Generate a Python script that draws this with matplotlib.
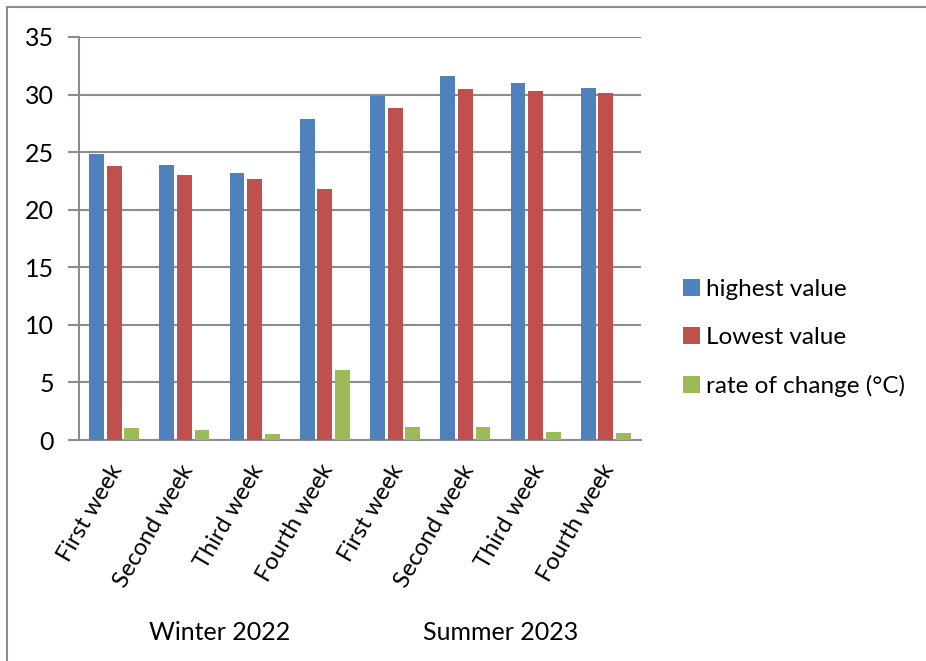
import matplotlib
matplotlib.use("Agg")
import matplotlib.pyplot as plt
from matplotlib.patches import Rectangle
import numpy as np

plt.rcParams['font.family'] = ['Lato', 'DejaVu Sans']

weeks = ["First week", "Second week", "Third week", "Fourth week",
         "First week", "Second week", "Third week", "Fourth week"]
seasons = ["Winter 2022", "Summer 2023"]
highest = [24.8, 23.9, 23.2, 27.9, 29.9, 31.6, 31.0, 30.6]
lowest = [23.8, 23.0, 22.7, 21.8, 28.8, 30.5, 30.3, 30.1]
rate = [1.0, 0.9, 0.5, 6.1, 1.1, 1.1, 0.7, 0.6]
series_names = ["highest value", "Lowest value", "rate of change (°C)"]
colors = ["#4F81BD", "#C0504D", "#9BBB59"]

W, H = 926, 661
fig = plt.figure(figsize=(W / 100, H / 100), dpi=100)
ax = fig.add_axes([79 / W, 1 - 440 / H, (641 - 79) / W, (440 - 37) / H])

x = np.arange(len(weeks))
bw = 0.21
off = 0.25
for i, (vals, name) in enumerate(zip([highest, lowest, rate], series_names)):
    ax.bar(x + (i - 1) * off, vals, bw, color=colors[i], label=name, zorder=3)

ax.set_xlim(-0.5, len(weeks) - 0.5)
ax.set_ylim(0, 35)
ax.set_yticks(range(0, 36, 5))
ax.yaxis.grid(True, color="#8C8C8C", linewidth=1.5, zorder=0)
ax.set_axisbelow(True)
for s in ["top", "right"]:
    ax.spines[s].set_visible(False)
for s in ["left", "bottom"]:
    ax.spines[s].set_color("#8C8C8C")
    ax.spines[s].set_linewidth(1.5)
ax.tick_params(axis="y", length=8, width=1.5, color="#8C8C8C", labelsize=18, pad=10)
ax.tick_params(axis="x", length=0, labelsize=17, pad=15)
ax.set_xticks(x - 0.08)
ax.set_xticklabels(weeks, rotation=60, ha="right", rotation_mode="anchor")

# season labels centred under each group of four weeks
for j, name in enumerate(seasons):
    ax.text(j * 4 + 1.5, -(633 - 440) / (440 - 37), name,
            transform=ax.get_xaxis_transform(),
            ha="center", va="center", fontsize=18)

leg = fig.legend(loc="center left", bbox_to_anchor=(661 / W, 1 - 338 / H),
                 frameon=False, fontsize=17.5, handlelength=0.7, handleheight=0.7,
                 handletextpad=0.25, labelspacing=1.1)

# outer chart border
fig.patches.append(Rectangle((6.5 / W, -0.01), 1.1, 1 - 7 / H + 0.01,
                             transform=fig.transFigure, fill=False,
                             edgecolor="#8C8C8C", linewidth=1.5))

fig.savefig("out.png", dpi=100)
